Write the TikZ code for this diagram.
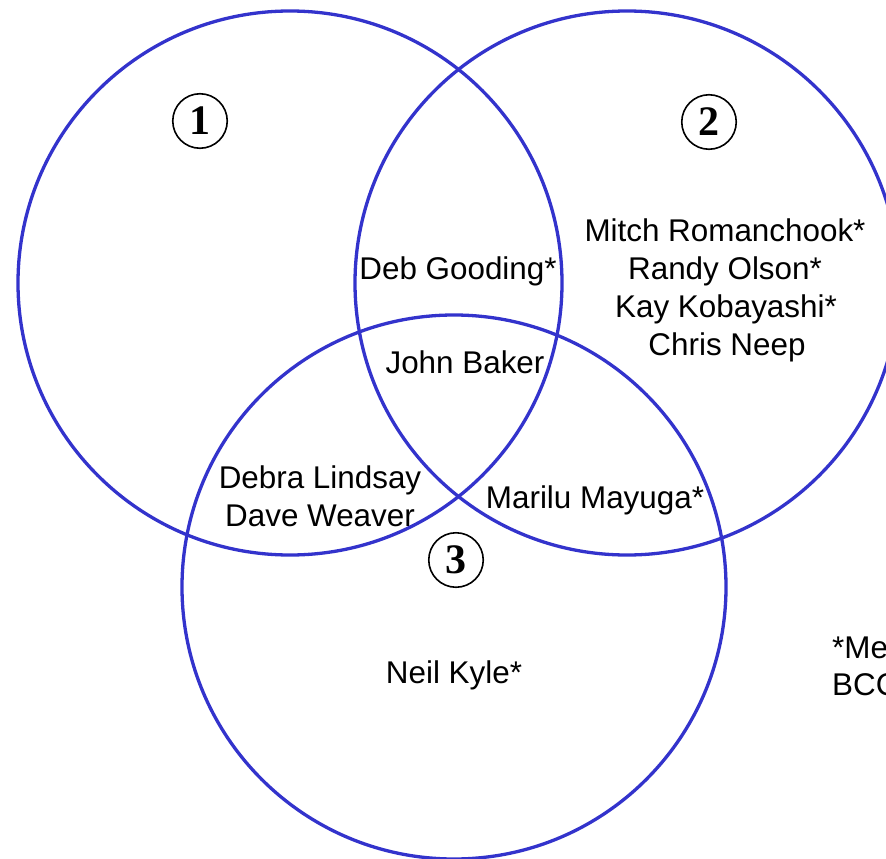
\documentclass[tikz,border=0pt]{standalone}
\usepackage{fontspec}
\setmainfont{Liberation Sans}
\newfontfamily\numfont{Liberation Serif}
\definecolor{vennblue}{RGB}{51,51,204}
\begin{document}
\begin{tikzpicture}[x=1pt,y=-1pt,
  venn/.style={draw=vennblue,line width=3.3pt},
  numcirc/.style={draw=black,line width=1.6pt,circle,minimum size=54.5pt,inner sep=0pt,
    font=\numfont\bfseries\fontsize{42}{42}\selectfont},
  person/.style={anchor=base,inner sep=0pt,font=\fontsize{31.4}{38}\selectfont}]
\useasboundingbox (0,0) rectangle (886,859);
\clip (0,0) rectangle (886,859);
\fill[white] (0,0) rectangle (886,859);
\draw[venn] (290,283) circle[radius=272];
\draw[venn] (627,283) circle[radius=272];
\draw[venn] (454,587) circle[radius=272];
\node[numcirc] (n1) at (200,121) {1};
\node[numcirc] (n2) at (709,122) {2};
\node[numcirc] (n3) at (456,560) {3};
\node[person] (deb) at (458,279) {Deb Gooding*};
\node[person] (mitch) at (725,241) {Mitch Romanchook*};
\node[person] (randy) at (725,279) {Randy Olson*};
\node[person] (kay) at (726,317) {Kay Kobayashi*};
\node[person] (chris) at (727,355) {Chris Neep};
\node[person] (john) at (465,373) {John Baker};
\node[person] (debra) at (320,488) {Debra Lindsay};
\node[person] (dave) at (320,526) {Dave Weaver};
\node[person] (marilu) at (595,508) {Marilu Mayuga*};
\node[person] (neil) at (454,683) {Neil Kyle*};
\node[person,anchor=base west] (note1) at (832,658) {*Me};
\node[person,anchor=base west] (note2) at (832,695) {BCC};
\end{tikzpicture}
\end{document}
